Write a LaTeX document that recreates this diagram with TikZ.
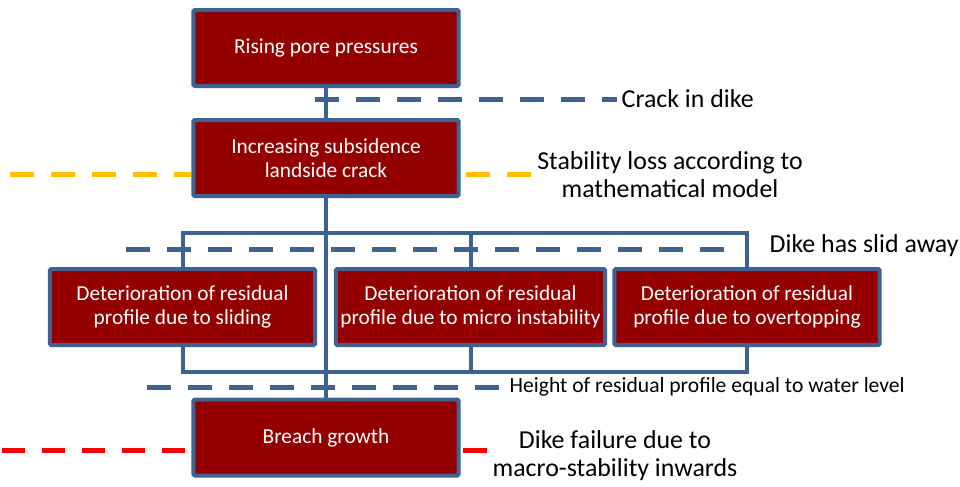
\documentclass[tikz,border=0pt]{standalone}
\usepackage{fontspec}
\setmainfont{Carlito}
\definecolor{boxred}{RGB}{148,0,0}
\definecolor{edgeblue}{RGB}{62,98,146}
\definecolor{lineyellow}{RGB}{255,192,0}
\definecolor{linered}{RGB}{255,0,0}

\begin{document}
\begin{tikzpicture}[x=0.75pt,y=-0.75pt,
  stage/.style={draw=edgeblue,fill=boxred,line width=3pt,text=white,
    minimum width=199pt,minimum height=57pt,align=center,
    rounded corners=1pt,font=\fontsize{16}{18}\selectfont},
  link/.style={draw=edgeblue,line width=3pt},
  limit/.style={line width=3.75pt,dash pattern=on 18pt off 12.75pt},
  note/.style={align=center,font=\fontsize{19.4}{21}\selectfont},
  smallnote/.style={font=\fontsize{16.2}{18}\selectfont}]
  \useasboundingbox (0,0) rectangle (960,486);

  % stages
  \node[stage] (rise) at (326,48) {Rising pore pressures};
  \node[stage] (subs) at (326,158) {Increasing subsidence\\landside crack};
  \node[stage] (slide) at (182.5,307) {Deterioration of residual\\profile due to sliding};
  \node[stage] (micro) at (470.5,307) {Deterioration of residual\\profile due to micro instability};
  \node[stage] (over) at (747,307) {Deterioration of residual\\profile due to overtopping};
  \node[stage] (breach) at (326,437.5) {Breach growth};

  % limit labels
  \node[note,anchor=west] (crack) at (617,99) {Crack in dike};
  \node[note] (stab) at (670,175) {Stability loss according to\\mathematical model};
  \node[note,anchor=west] (slid) at (765,246) {Dike has slid away};
  \node[smallnote,anchor=west] (level) at (505,387) {Height of residual profile equal to water level};
  \node[note] (fail) at (615,456) {Dike failure due to\\macro-stability inwards};

  % limit lines
  \coordinate (crackstart) at (315,99);
  \coordinate (stabstart) at (10,174);
  \coordinate (slidstart) at (126,249);
  \coordinate (slidend) at (729,249);
  \coordinate (levelstart) at (147,387);
  \coordinate (failstart) at (2,450);
  \coordinate (failend) at (488,450);
  \draw[limit,edgeblue] (crackstart) -- (crack.west);
  \draw[limit,lineyellow] (stabstart) -- (stabstart -| subs.west);
  \draw[limit,lineyellow,dash phase=27pt] (stabstart -| subs.east) -- (stabstart -| stab.west);
  \draw[limit,edgeblue] (slidstart) -- (slidend);
  \draw[limit,edgeblue] (levelstart) -- (level.west);
  \draw[limit,linered,dash pattern=on 17pt off 13pt] (failstart) -- (failstart -| breach.west);
  \draw[limit,linered,dash pattern=on 18pt off 12pt,dash phase=-2pt] (failstart -| breach.east) -- (failend);

  % connectors
  \coordinate (topbus) at (326,233);
  \coordinate (lowbus) at (326,372);
  \draw[link] (rise.south) -- (subs.north);
  \draw[link] (subs.south) -- (breach.north);
  \draw[link] (slide.north) |- (topbus) -| (over.north);
  \draw[link] (micro.north) -- (micro.north |- topbus);
  \draw[link] (slide.south) |- (lowbus) -| (over.south);
  \draw[link] (micro.south) -- (micro.south |- lowbus);
\end{tikzpicture}
\end{document}
